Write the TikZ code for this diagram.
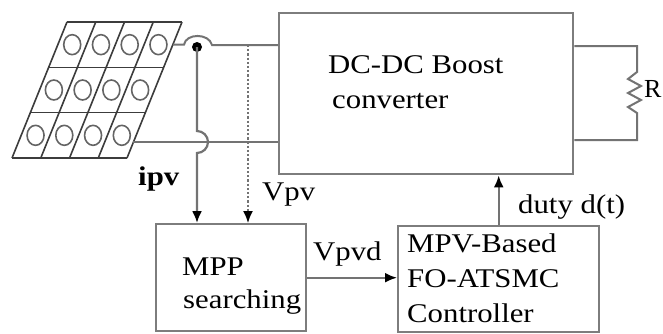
\documentclass[tikz,border=0pt]{standalone}
\usepackage{fontspec}
\setmainfont[FakeStretch=1.14]{Liberation Serif}
\newfontfamily\plainserif{Liberation Serif}
\usetikzlibrary{arrows.meta,calc}
\definecolor{boxgray}{RGB}{125,125,125}
\definecolor{wiregray}{RGB}{115,115,115}
\definecolor{panelgray}{RGB}{60,60,60}
\definecolor{cellgray}{RGB}{100,100,100}
\tikzset{
  blockbox/.style={draw=boxgray, line width=2.4pt, fill=white, inner sep=0pt, anchor=north west},
  wire/.style={draw=wiregray, line width=2pt},
  sig/.style={draw=wiregray, line width=2.2pt, -{Latex[length=12pt,width=10pt,black]}},
  lbl/.style={inner sep=0pt, anchor=base west, font=\fontsize{27}{34}\selectfont},
}
\begin{document}
\begin{tikzpicture}[x=1pt,y=-1pt]
\useasboundingbox (0,0) rectangle (663,333);
% blocks
\node[blockbox, minimum width=294pt, minimum height=161pt] (dc) at (278,12) {};
\node[blockbox, minimum width=150pt, minimum height=107pt] (mpp) at (155,223) {};
\node[blockbox, minimum width=201pt, minimum height=106pt] (ctrl) at (397,225) {};
% texts
\node[lbl] (t1) at (328,73) {DC-DC Boost};
\node[lbl] (t2) at (332,108) {converter};
\node[lbl] (t3) at (182,275) {MPP};
\node[lbl] (t4) at (183,308) {searching};
\node[lbl] (t5) at (407,252) {MPV-Based};
\node[lbl] (t6) at (407,287) {FO-ATSMC};
\node[lbl] (t7) at (407,322) {Controller};
\node[lbl] (t8) at (518,213) {duty d(t)};
\node[lbl] (t9) at (313,260) {Vpvd};
\node[lbl] (t10) at (262,200) {Vpv};
\node[lbl, font=\fontsize{27}{34}\selectfont\bfseries] (t11) at (138,185) {ipv};
\node[lbl, font=\fontsize{26}{34}\selectfont\plainserif] (t12) at (644,97) {R};
% solar panel
\begin{scope}[shift={(67,22)}, x={(28.75pt,0pt)}, y={(-18.33pt,-45.33pt)}]
  \foreach \i in {0,...,4} \draw[panelgray, line width=1.6pt] (\i,0) -- (\i,3);
  \foreach \j in {0,...,3} \draw[panelgray, line width=1.6pt] (0,\j) -- (4,\j);
  \foreach \i in {0,...,3} \foreach \j in {0,...,2}
    \draw[cellgray, line width=1.6pt] (\i+0.5,\j+0.5) ellipse [x radius=8.5pt, y radius=10pt];
  \coordinate (pvtop) at (4,0.5);
  \coordinate (pvbot) at (4,2.65);
\end{scope}
% wiring coordinates
\coordinate (hump1) at (184,45);
\coordinate (hump2) at (212,45);
\coordinate (tap) at (197,47);
\coordinate (vtap) at (248,45);
\coordinate (r1) at (637,46);
\coordinate (r2) at (637,140);
% top wire with hump
\draw[wire] (pvtop) -- (pvtop -| hump1) .. controls (186,33) and (209,33) .. (hump2) -- (hump2 -| dc.west);
% bottom wire
\draw[wire] (pvbot) -- (pvbot -| dc.west);
% current sense dot and ipv line
\fill[black] (tap) circle [radius=5pt];
\draw[sig] (tap) -- (197,131) arc [start angle=90, end angle=-90, radius=11pt] -- (tap |- mpp.north);
% Vpv dotted
\draw[sig, dotted, line width=1.6pt] (vtap) -- (vtap |- mpp.north);
% load resistor
\draw[wire] (dc.east |- r1) -- (r1) -- (637,72) -- (628,79) -- (641,86) -- (628,93) -- (641,100) -- (628,107) -- (637,113) -- (r2) -- (dc.east |- r2);
% signals
\draw[sig] (mpp.east) -- (mpp.east -| ctrl.west);
\draw[sig] (ctrl.north) -- (ctrl.north |- dc.south);
\end{tikzpicture}
\end{document}
